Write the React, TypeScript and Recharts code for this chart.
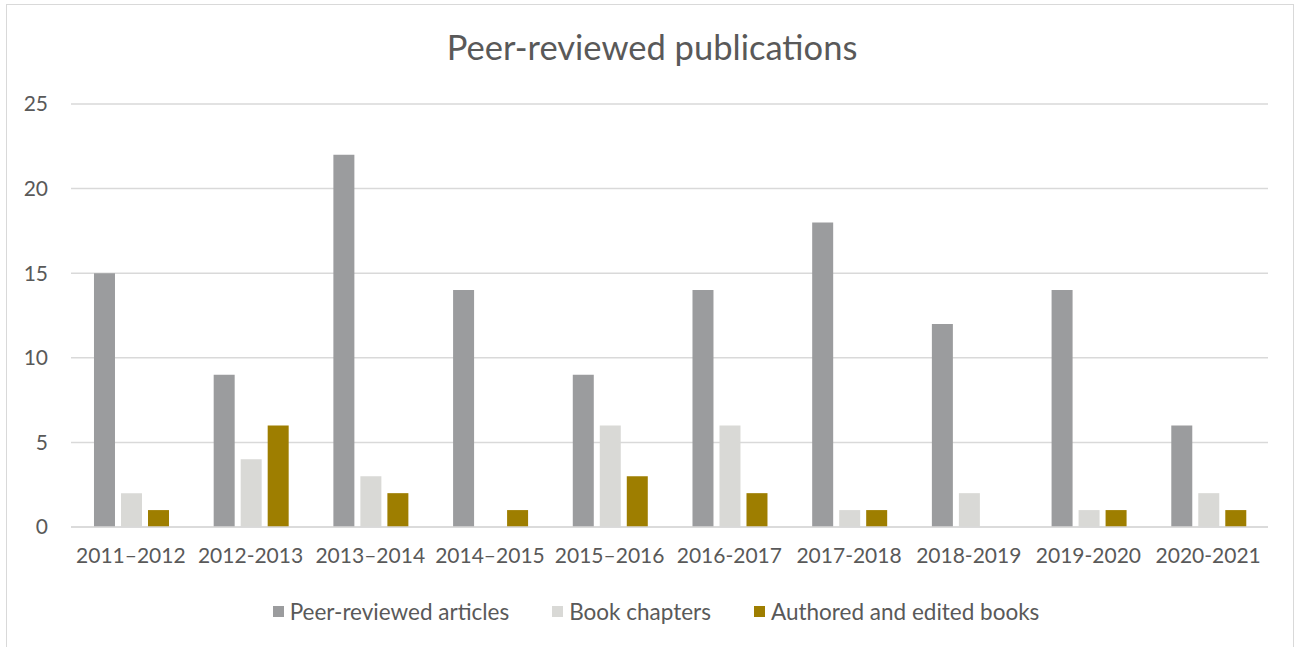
import React from "react";
import { BarChart, Bar, XAxis, YAxis, CartesianGrid, Legend } from "recharts";

const categories = ["2011–2012", "2012-2013", "2013–2014", "2014–2015", "2015–2016", "2016-2017", "2017-2018", "2018-2019", "2019-2020", "2020-2021"];
const articles = [15, 9, 22, 14, 9, 14, 18, 12, 14, 6];
const chapters = [2, 4, 3, 0, 6, 6, 1, 2, 1, 2];
const books = [1, 6, 2, 1, 3, 2, 1, 0, 1, 1];
const yTicks = [0, 5, 10, 15, 20, 25];

const seriesNames = ["Peer-reviewed articles", "Book chapters", "Authored and edited books"];
const seriesColors = ["#9b9c9e", "#d9d9d6", "#9e7e00"];

const data = categories.map((c, i) => ({
  name: c,
  articles: articles[i],
  chapters: chapters[i],
  books: books[i],
}));

const FONT = "Lato, 'Open Sans', sans-serif";
const TEXT = "#595959";

const LegendContent = () => (
  <div style={{ display: "flex", justifyContent: "center", alignItems: "center", gap: 43, height: 30, fontFamily: FONT, fontSize: 22.5, color: TEXT, paddingLeft: 44 }}>
    {seriesNames.map((n, i) => (
      <div key={n} style={{ display: "flex", alignItems: "center" }}>
        <span style={{ display: "inline-block", width: 11, height: 11, background: seriesColors[i], marginRight: 6 }} />
        <span>{n}</span>
      </div>
    ))}
  </div>
);

export default function App() {
  return (
    <div style={{ position: "absolute", left: 0, top: 0, width: 1297, height: 647, background: "#fff", overflow: "hidden" }}>
      <div style={{ position: "absolute", left: 6, top: 4, width: 1288, height: 700, border: "1.5px solid #d9d9d9", boxSizing: "border-box" }} />
      <div style={{ position: "absolute", left: 0, top: 26, width: 1304, textAlign: "center", fontFamily: FONT, fontSize: 34.5, color: TEXT }}>
        Peer-reviewed publications
      </div>
      <div style={{ position: "absolute", left: 0, top: 0 }}>
        <BarChart
          width={1297}
          height={647}
          data={data}
          margin={{ top: 104, right: 29, left: 0, bottom: 21 }}
          barCategoryGap="19.2%"
          barGap={6}
        >
          <CartesianGrid vertical={false} stroke="#d9d9d9" strokeWidth={1.5} />
          <XAxis
            dataKey="name"
            axisLine={{ stroke: "#d9d9d9", strokeWidth: 1.5 }}
            tickLine={false}
            tickMargin={15}
            height={69}
            interval={0}
            tick={{ fill: TEXT, fontSize: 21, fontFamily: FONT }}
          />
          <YAxis
            width={71}
            domain={[0, 25]}
            ticks={yTicks}
            axisLine={false}
            tickLine={false}
            tickMargin={17}
            tick={{ fill: TEXT, fontSize: 21, fontFamily: FONT }}
          />
          <Legend verticalAlign="bottom" height={30} content={<LegendContent />} />
          <Bar dataKey="articles" name={seriesNames[0]} fill={seriesColors[0]} isAnimationActive={false} />
          <Bar dataKey="chapters" name={seriesNames[1]} fill={seriesColors[1]} isAnimationActive={false} />
          <Bar dataKey="books" name={seriesNames[2]} fill={seriesColors[2]} isAnimationActive={false} />
        </BarChart>
      </div>
    </div>
  );
}
